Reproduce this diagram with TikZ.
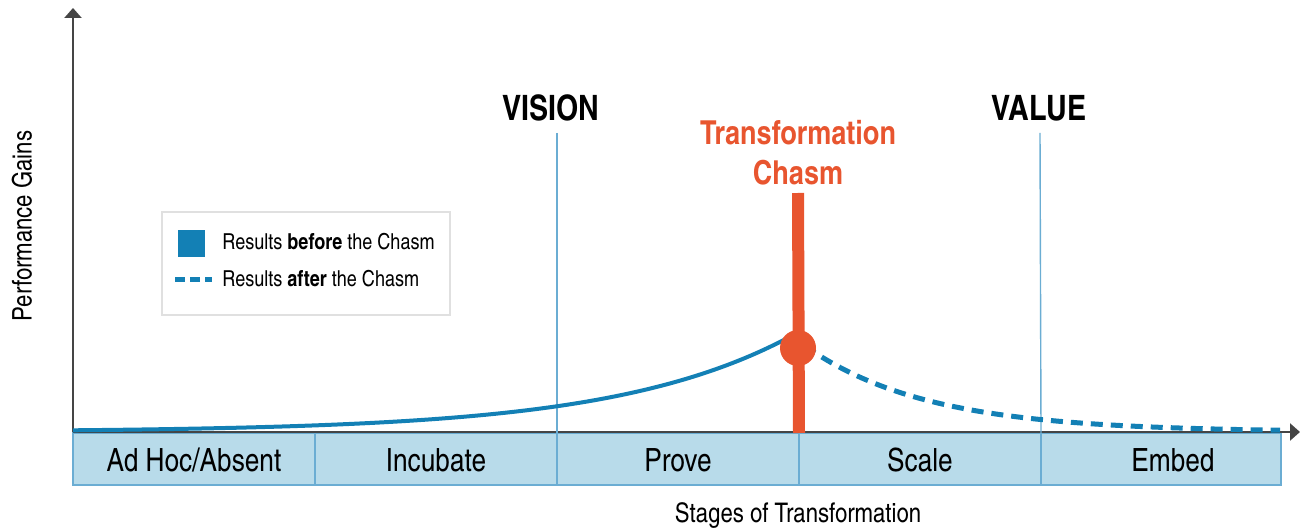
\documentclass[tikz,border=0pt]{standalone}
\usepackage{fontspec}
\setmainfont{texgyreheroscn}[Extension=.otf, UprightFont=*-regular, BoldFont=*-bold, ItalicFont=*-italic, BoldItalicFont=*-bolditalic]
\usetikzlibrary{arrows.meta,positioning}

\definecolor{resultblue}{HTML}{1380B5}
\definecolor{chasmorange}{HTML}{E8552F}
\definecolor{bandfill}{HTML}{B8DBEA}
\definecolor{bandline}{HTML}{6BADD3}
\definecolor{axisgray}{HTML}{454545}

\tikzset{
    stagebox/.style={draw=bandline, fill=bandfill, line width=0.6pt, inner sep=0pt, outer sep=0pt,
        minimum width=121pt, minimum height=26pt, text depth=0pt, font=\fontsize{16}{18}\selectfont},
    axis/.style={draw=axisgray, line width=1.2pt, -{Triangle[length=5pt,width=8.5pt]}},
    milestone/.style={font=\fontsize{17.5}{20}\selectfont\bfseries},
    milestoneline/.style={draw=bandline, line width=0.7pt},
    before/.style={draw=resultblue, line width=2pt},
    after/.style={draw=resultblue, line width=2.5pt, dash pattern=on 6pt off 4pt},
    legendtext/.style={anchor=west, inner sep=0pt, font=\fontsize{11}{14}\selectfont},
}

\begin{document}
\begin{tikzpicture}[x=0.5pt, y=-0.5pt]
    \useasboundingbox (0,0) rectangle (1301,529);

    % stages along the bottom
    \node[stagebox] at (194,459) (adhoc) {\raisebox{-1pt}{Ad Hoc/Absent}};
    \node[stagebox, right=0pt of adhoc] (incubate) {\raisebox{-1pt}{Incubate}};
    \node[stagebox, right=0pt of incubate] (prove) {\raisebox{-1pt}{Prove}};
    \node[stagebox, right=0pt of prove] (scale) {\raisebox{-1pt}{Scale}};
    \node[stagebox, minimum width=120pt, right=0pt of scale] (embed) {\hspace*{12pt}\raisebox{-1pt}{Embed}};

    % axes
    \coordinate (origin) at (73,432);
    \coordinate (ytip) at (73,8);
    \coordinate (xtip) at (1300,432);
    \draw[axis] (origin) -- (ytip);
    \draw[axis] (origin) -- (xtip);

    \node[rotate=90, font=\fontsize{13.5}{15}\selectfont] at (22,226) (ylabel) {Performance Gains};
    \node[font=\fontsize{13.5}{15}\selectfont] at (798,516) (xlabel) {Stages of Transformation};

    % vision and value
    \node[milestone] at (551,108) (vision) {VISION};
    \node[milestone] at (1039,108) (value) {VALUE};
    \coordinate (visiontop) at (557,133);
    \coordinate (valuetop) at (1040,133);
    \draw[milestoneline] (visiontop) -- (incubate.north east);
    \draw[milestoneline] (valuetop) -- (scale.north east);

    % results curves
    \draw[before] plot[domain=73:798, samples=80, smooth] (\x, {432-1.7*exp(0.00562*(\x-73))});
    \draw[after] plot[domain=805:1280, samples=60, smooth] (\x, {432-86*exp(-0.00819*(\x-805))});

    % the chasm
    \node[milestone, text=chasmorange, align=center, font=\fontsize{16.5}{20}\selectfont\bfseries]
        at (798,153) (chasm) {Transformation\\Chasm};
    \coordinate (chasmtop) at (798,193);
    \draw[draw=chasmorange, line width=6pt] (chasmtop) -- (prove.north east);
    \node[circle, fill=chasmorange, minimum size=18pt, inner sep=0pt] at (798,348) (peak) {};

    % legend
    \node[draw=black!12, line width=0.8pt, minimum width=144pt, minimum height=51.5pt, inner sep=0pt]
        at (306,263.5) (legend) {};
    \node[fill=resultblue, minimum size=13.5pt, inner sep=0pt] at (191.5,243.5) (beforekey) {};
    \node[legendtext] at (222,242) (beforetext) {Results \textbf{before} the Chasm};
    \coordinate (afterstart) at (175,280);
    \coordinate (afterend) at (212,280);
    \draw[after, dash pattern=on 5pt off 2.5pt] (afterstart) -- (afterend);
    \node[legendtext] at (222,279) (aftertext) {Results \textbf{after} the Chasm};
\end{tikzpicture}
\end{document}
